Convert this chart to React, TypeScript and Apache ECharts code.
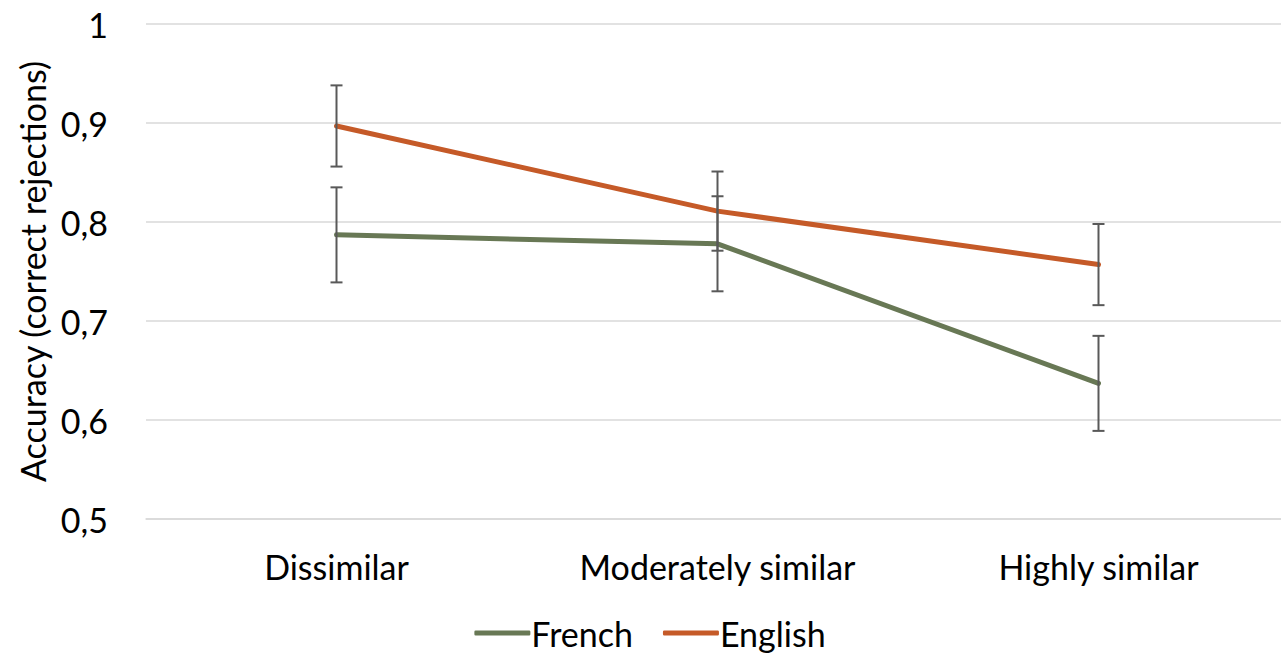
import React, { useEffect, useRef } from "react";
import * as echarts from "echarts";

const categories = ["Dissimilar", "Moderately similar", "Highly similar"];
const frenchMean = [0.787, 0.778, 0.637];
const frenchErr = [0.048, 0.048, 0.048];
const englishMean = [0.897, 0.811, 0.757];
const englishErr = [0.041, 0.040, 0.041];
const yTicks = { min: 0.5, max: 1, interval: 0.1 };

const FRENCH_COLOR = "#687855";
const ENGLISH_COLOR = "#C55A28";
const FONT = "Lato, 'Open Sans', sans-serif";
const FS = 34;

function errorData(mean: number[], err: number[]) {
  return mean.map((m, i) => [i, m - err[i], m + err[i]]);
}

const renderErr = (params: any, api: any) => {
  const x = api.value(0);
  const lo = api.coord([x, api.value(1)]);
  const hi = api.coord([x, api.value(2)]);
  const cap = 6;
  const style = { stroke: "#595959", lineWidth: 2 };
  return {
    type: "group",
    children: [
      { type: "line", shape: { x1: lo[0], y1: lo[1], x2: hi[0], y2: hi[1] }, style },
      { type: "line", shape: { x1: lo[0] - cap, y1: lo[1], x2: lo[0] + cap, y2: lo[1] }, style },
      { type: "line", shape: { x1: hi[0] - cap, y1: hi[1], x2: hi[0] + cap, y2: hi[1] }, style },
    ],
  };
};

export default function App() {
  const ref = useRef<HTMLDivElement>(null);
  useEffect(() => {
    if (!ref.current) return;
    const chart = echarts.init(ref.current, undefined, { renderer: "svg" });
    chart.setOption({
      animation: false,
      backgroundColor: "#ffffff",
      textStyle: { fontFamily: FONT },
      grid: { left: 146, top: 24, width: 1143, bottom: 134 },
      legend: {
        left: "center",
        top: 614,
        padding: 0,
        itemWidth: 56,
        itemHeight: 5,
        itemGap: 30,
        icon: "roundRect",
        textStyle: { fontSize: FS, color: "#000", fontFamily: FONT, padding: [0, 0, 0, -4], lineHeight: 38 },
        data: ["French", "English"],
      },
      xAxis: {
        type: "category",
        data: categories,
        boundaryGap: true,
        axisLine: { show: true, lineStyle: { color: "#D9D9D9", width: 1.5 } },
        axisTick: { show: false },
        axisLabel: { fontSize: FS, color: "#000", margin: 30, fontFamily: FONT },
      },
      yAxis: {
        type: "value",
        min: yTicks.min,
        max: yTicks.max,
        interval: yTicks.interval,
        name: "Accuracy (correct rejections)",
        nameLocation: "middle",
        nameGap: 94,
        nameTextStyle: { fontSize: FS, color: "#000", fontFamily: FONT },
        axisLine: { show: false },
        axisTick: { show: false },
        splitLine: { lineStyle: { color: "#D9D9D9", width: 1.5 } },
        axisLabel: {
          fontSize: FS,
          color: "#000",
          margin: 38,
          fontFamily: FONT,
          formatter: (v: number) => (Math.round(v * 10) / 10).toString().replace(".", ","),
        },
      },
      series: [
        {
          name: "French",
          type: "line",
          data: frenchMean,
          symbol: "none",
          lineStyle: { color: FRENCH_COLOR, width: 5, cap: "round", join: "round" },
          itemStyle: { color: FRENCH_COLOR },
          z: 3,
        },
        {
          name: "English",
          type: "line",
          data: englishMean,
          symbol: "none",
          lineStyle: { color: ENGLISH_COLOR, width: 5, cap: "round", join: "round" },
          itemStyle: { color: ENGLISH_COLOR },
          z: 3,
        },
        {
          name: "French err",
          type: "custom",
          data: errorData(frenchMean, frenchErr),
          renderItem: renderErr,
          z: 5,
        },
        {
          name: "English err",
          type: "custom",
          data: errorData(englishMean, englishErr),
          renderItem: renderErr,
          z: 5,
        },
      ],
    });
    return () => chart.dispose();
  }, []);
  return (
    <div style={{ position: "fixed", left: 0, top: 0, width: 1281, height: 653, overflow: "hidden", background: "#fff" }}>
      <div ref={ref} style={{ width: 1300, height: 653 }} />
    </div>
  );
}
